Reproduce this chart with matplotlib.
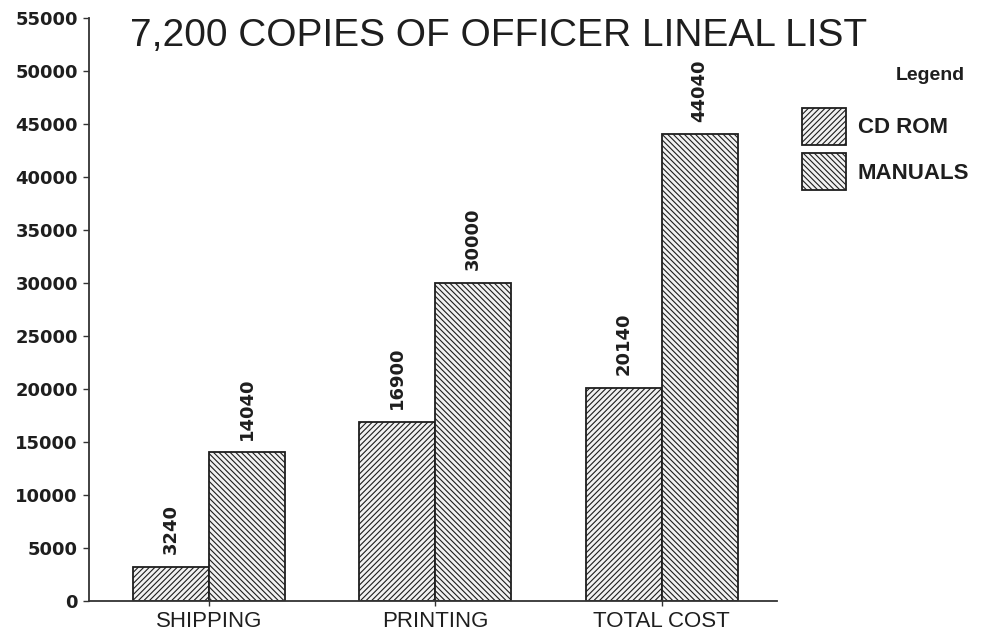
import matplotlib
matplotlib.use("Agg")
import matplotlib.pyplot as plt
import numpy as np
from matplotlib.patches import Patch

categories = ["SHIPPING", "PRINTING", "TOTAL COST"]
cd_rom = [3240, 16900, 20140]
manuals = [14040, 30000, 44040]
series_names = ["CD ROM", "MANUALS"]
yticks = list(range(0, 55001, 5000))

plt.rcParams['font.family'] = ['Liberation Sans', 'DejaVu Sans']
plt.rcParams['hatch.linewidth'] = 0.8
plt.rcParams['hatch.color'] = '#666666'

INK = '#1e1e1e'
fig = plt.figure(figsize=(9.84, 6.4), dpi=100)
ax = fig.add_axes([89/984, 1-601/640, (777-89)/984, (601-18)/640])

x = np.arange(len(categories))
w = 0.336
b1 = ax.bar(x - w/2, cd_rom, w, facecolor='#f2f2f2', edgecolor=INK, linewidth=1.3, hatch='//////')
b2 = ax.bar(x + w/2, manuals, w, facecolor='#f2f2f2', edgecolor=INK, linewidth=1.3, hatch='\\\\\\\\\\\\')

for bars, vals in ((b1, cd_rom), (b2, manuals)):
    for r, v in zip(bars, vals):
        ax.annotate(str(v), (r.get_x() + r.get_width()/2, v), xytext=(0, 9), textcoords='offset points',
                    rotation=90, ha='center', va='bottom', fontsize=13, fontweight='bold',
                    family='DejaVu Sans', color=INK)

ax.set_xlim(-0.53, 2.51)
ax.set_ylim(0, 55000)
ax.set_yticks(yticks)
ax.set_yticklabels([str(t) for t in yticks], fontsize=13, fontweight='bold', family='DejaVu Sans', color=INK)
ax.set_xticks(x)
ax.set_xticklabels(categories, fontsize=16, color=INK)
ax.tick_params(axis='y', length=4, width=1, pad=4, color='#333333')
ax.tick_params(axis='x', length=7, width=1, direction='inout', pad=4, color='#333333')
for s in ('top', 'right'):
    ax.spines[s].set_visible(False)
for s in ('left', 'bottom'):
    ax.spines[s].set_linewidth(1.3)
    ax.spines[s].set_color('#333333')

fig.text(130/984, 1-36/640, "7,200 COPIES OF OFFICER LINEAL LIST", fontsize=28, va='center', ha='left', color=INK)

fig.text(965/984, 1-75/640, "Legend", fontsize=14, fontweight='bold', ha='right', va='center', color=INK)
handles = [Patch(facecolor='#f2f2f2', edgecolor=INK, hatch='//////', linewidth=1.3),
           Patch(facecolor='#f2f2f2', edgecolor=INK, hatch='\\\\\\\\\\\\', linewidth=1.3)]
leg = fig.legend(handles, series_names, loc='upper left', bbox_to_anchor=(802/984, 1-108/640),
                 frameon=False, handlelength=2.0, handleheight=2.15,
                 prop={'size': 16, 'weight': 'bold'},
                 handletextpad=0.5, labelspacing=0.4, borderpad=0, borderaxespad=0)
for t in leg.get_texts():
    t.set_color(INK)

fig.savefig("out.png", dpi=100, facecolor='white')
